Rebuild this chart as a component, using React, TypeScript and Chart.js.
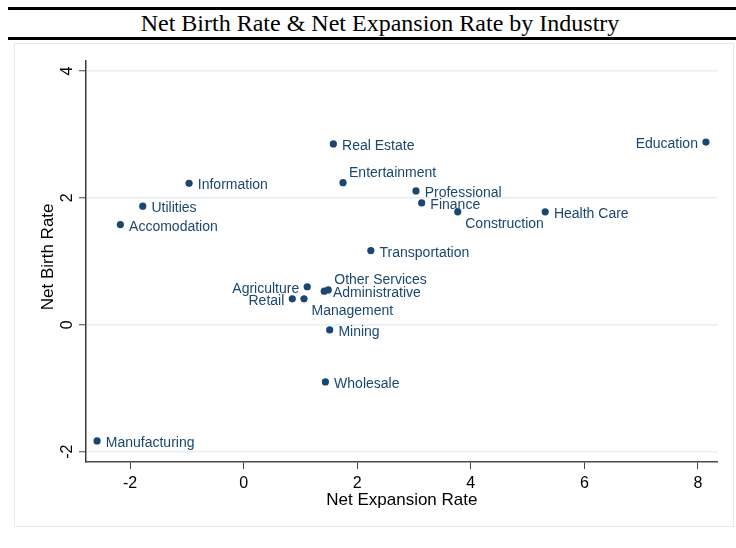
import React, { useEffect, useRef } from "react";
import { Chart, registerables } from "chart.js";

Chart.register(...registerables);

const titleText = "Net Birth Rate & Net Expansion Rate by Industry";
const xTitle = "Net Expansion Rate";
const yTitle = "Net Birth Rate";

const industries = [
  "Education",
  "Real Estate",
  "Entertainment",
  "Information",
  "Professional",
  "Finance",
  "Construction",
  "Health Care",
  "Utilities",
  "Accomodation",
  "Transportation",
  "Agriculture",
  "Retail",
  "Management",
  "Other Services",
  "Administrative",
  "Mining",
  "Wholesale",
  "Manufacturing",
];
const expansionRate = [
  8.14, 1.58, 1.75, -0.96, 3.035, 3.135, 3.77, 5.31, -1.776, -2.17, 2.24, 1.12,
  0.857, 1.063, 1.49, 1.42, 1.516, 1.44, -2.58,
];
const birthRate = [
  2.88, 2.85, 2.24, 2.23, 2.11, 1.92, 1.78, 1.78, 1.87, 1.58, 1.17, 0.6, 0.41,
  0.41, 0.55, 0.53, -0.08, -0.9, -1.83,
];
// label position relative to marker: r = right, l = left, ur = upper right, br = lower right
const labelPosition = [
  "l", "r", "ur", "r", "r", "r", "br", "r", "r", "r", "r", "l", "l", "br", "ur",
  "r", "r", "r", "r",
];
const xTicks = [-2, 0, 2, 4, 6, 8];
const yTicks = [-2, 0, 2, 4];

const SANS = '"Liberation Sans", Arial, Helvetica, sans-serif';
const MARK = "#1a476f";

export default function App() {
  const canvasRef = useRef<HTMLCanvasElement | null>(null);

  useEffect(() => {
    const canvas = canvasRef.current;
    if (!canvas) return;

    const textPlugin = {
      id: "stataText",
      afterDraw(chart: any) {
        const ctx = chart.ctx as CanvasRenderingContext2D;
        const xs = chart.scales.x;
        const ys = chart.scales.y;
        const area = chart.chartArea;
        ctx.save();
        // point labels
        ctx.font = `14px ${SANS}`;
        ctx.fillStyle = MARK;
        ctx.textBaseline = "alphabetic";
        industries.forEach((name, i) => {
          const px = xs.getPixelForValue(expansionRate[i]);
          const py = ys.getPixelForValue(birthRate[i]);
          const p = labelPosition[i];
          if (p === "l") {
            ctx.textAlign = "right";
            ctx.fillText(name, px - 8, py + 6.3);
          } else if (p === "ur") {
            ctx.textAlign = "left";
            ctx.fillText(name, px + 6, py - 5.7);
          } else if (p === "br") {
            ctx.textAlign = "left";
            ctx.fillText(name, px + 7.5, py + 16.5);
          } else {
            ctx.textAlign = "left";
            ctx.fillText(name, px + 8.7, py + 6);
          }
        });
        // x tick labels
        ctx.fillStyle = "#000";
        ctx.font = `16px ${SANS}`;
        ctx.textAlign = "center";
        xs.ticks.forEach((t: any) => {
          ctx.fillText(String(t.value), xs.getPixelForValue(t.value), area.bottom + 25.7);
        });
        // y tick labels (rotated)
        ys.ticks.forEach((t: any) => {
          ctx.save();
          ctx.translate(area.left - 14, ys.getPixelForValue(t.value));
          ctx.rotate(-Math.PI / 2);
          ctx.fillText(String(t.value), 0, 0);
          ctx.restore();
        });
        // axis titles
        ctx.font = `17px ${SANS}`;
        ctx.fillText(xTitle, (area.left + area.right) / 2, area.bottom + 43);
        ctx.save();
        ctx.translate(area.left - 33.3, (area.top + area.bottom) / 2 - 4.5);
        ctx.rotate(-Math.PI / 2);
        ctx.fillText(yTitle, 0, 0);
        ctx.restore();
        ctx.restore();
      },
    };

    const chart = new Chart(canvas, {
      type: "scatter",
      data: {
        datasets: [
          {
            label: yTitle,
            data: industries.map((_, i) => ({ x: expansionRate[i], y: birthRate[i] })),
            backgroundColor: MARK,
            borderColor: MARK,
            borderWidth: 0,
            pointRadius: 3.6,
          },
        ],
      },
      options: {
        responsive: false,
        animation: false,
        devicePixelRatio: 1,
        layout: { padding: { left: 0, right: 15.3, top: 16.7, bottom: 0 } },
        plugins: {
          legend: { display: false },
          tooltip: { enabled: false },
          title: { display: false },
        },
        scales: {
          x: {
            type: "linear",
            min: -2.775,
            max: 8.347,
            afterBuildTicks: (s: any) => {
              s.ticks = xTicks.map((v) => ({ value: v }));
            },
            afterFit: (s: any) => {
              s.height = 64;
            },
            grid: {
              display: true,
              drawOnChartArea: false,
              drawTicks: true,
              tickLength: 7,
              tickColor: "#444",
              tickWidth: 1,
            },
            border: { display: true, color: "#4a4a4a", width: 1.5 },
            ticks: { display: false },
          },
          y: {
            type: "linear",
            min: -2.162,
            max: 4.162,
            afterBuildTicks: (s: any) => {
              s.ticks = yTicks.map((v) => ({ value: v }));
            },
            afterFit: (s: any) => {
              s.width = 71;
            },
            grid: {
              display: true,
              drawOnChartArea: true,
              drawTicks: true,
              tickLength: 7,
              color: "#e8eef1",
              lineWidth: 1.5,
              tickColor: "#444",
              tickWidth: 1,
            },
            border: { display: true, color: "#3a3a3a", width: 1.5 },
            ticks: { display: false },
          },
        },
      },
      plugins: [textPlugin],
    } as any);

    return () => chart.destroy();
  }, []);

  return (
    <div>
      <div
        style={{
          position: "absolute",
          top: 7,
          left: 8,
          right: 0,
          borderTop: "3px solid #000",
          borderBottom: "3px solid #000",
          height: 27,
          lineHeight: "26px",
          fontFamily: '"Liberation Serif", "Times New Roman", serif',
          fontSize: 24,
          textAlign: "center",
          paddingLeft: 16,
          boxSizing: "content-box",
          color: "#000",
          whiteSpace: "nowrap",
        }}
      >
        {titleText}
      </div>
      <div
        style={{
          position: "absolute",
          top: 43,
          left: 14,
          width: 718,
          height: 482,
          border: "1px solid #e3ebee",
          background: "#fff",
        }}
      >
        <canvas ref={canvasRef} width={718} height={482} style={{ display: "block", width: 718, height: 482 }} />
      </div>
    </div>
  );
}
